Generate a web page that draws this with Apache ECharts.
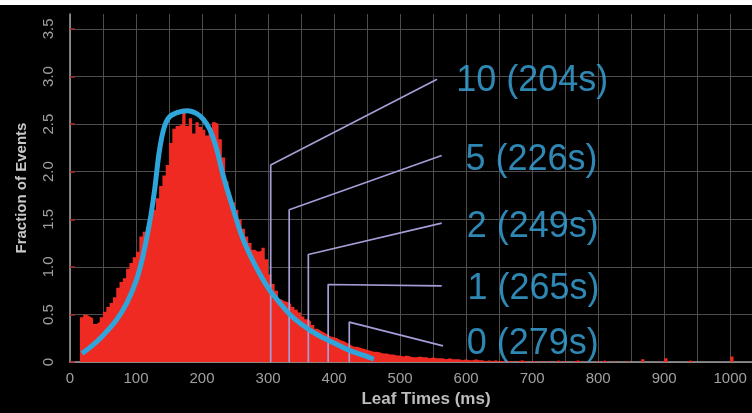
<!DOCTYPE html>
<html>
<head>
<meta charset="utf-8">
<script src="https://cdn.jsdelivr.net/npm/echarts@6/dist/echarts.min.js"></script>
<style>
html,body{margin:0;padding:0;background:#fff;}
#chart{width:752px;height:413px;}
</style>
</head>
<body>
<div id="chart"></div>
<script>
// ---- Data ----
// Histogram: bins of 5 ms starting at 15 ms (fraction of events)
var histStartMs = 15;
var histBinMs = 5;
var histValues = [
  0.47,0.50,0.48,0.46,0.40,0.42,0.47,0.53,0.58,0.62, // 15-60
  0.68,0.78,0.84,0.88,0.98,1.04,1.10,1.16,1.32,1.37, // 65-110
  1.42,1.50,1.60,1.72,1.85,1.96,2.07,2.30,2.45,2.48, // 115-160
  2.50,2.66,2.48,2.56,2.40,2.52,2.47,2.44,2.38,2.45, // 165-210
  2.52,2.50,2.34,2.15,1.90,1.75,1.68,1.60,1.50,1.40, // 215-260
  1.32,1.25,1.18,1.16,1.17,1.20,1.08,0.92,0.82,0.75, // 265-310
  0.66,0.64,0.63,0.61,0.58,0.55,0.52,0.48,0.45,0.43, // 315-360
  0.39,0.35,0.33,0.31,0.29,0.27,0.26,0.25,0.23,0.22, // 365-410
  0.20,0.18,0.16,0.16,0.15,0.14,0.13,0.12,0.11,0.11, // 415-460
  0.10,0.09,0.09,0.08,0.08,0.07,0.07,0.06,0.07,0.06, // 465-510
  0.05,0.05,0.06,0.05,0.05,0.04,0.05,0.04,0.04,0.04, // 515-560
  0.03,0.04,0.03,0.03,0.03,0.02,0.03,0.02,0.02,0.03, // 565-610
  0.02,0.02,0.01,0.02,0.01,0.02,0.01,0.01,0.02,0.01, // 615-660
  0.01,0.00,0.01,0.02,0.01,0.00,0.01,0.01,0.00,0.01, // 665-710
  0.00,0.01,0.00,0.00,0.02,0.00,0.01,0.00,0.00,0.01, // 715-760
  0.02,0.00,0.00,0.01,0.00,0.00,0.01,0.00,0.02,0.00, // 765-810
  0.00,0.01,0.00,0.00,0.00,0.01,0.00,0.00,0.00,0.00, // 815-860
  0.03,0.00,0.00,0.00,0.00,0.00,0.01,0.04,0.00,0.00, // 865-910
  0.00,0.00,0.00,0.00,0.02,0.00,0.00,0.00,0.00,0.00, // 915-960
  0.00,0.00,0.00,0.00,0.00,0.00,0.00,0.06,0.00,0.00, // 965-1010
  0.00,0.00,0.00,0.00                                 // 1015-1030
];

// Fitted distribution curve (ms, fraction)
var fitX = [18,35,50,70,86,100,110,121,128,135,142,150,162,178,192,202,212,222,232,247,260,273,288,303,318,333,350,374,400,424,445,460];
var fitY = [0.09,0.18,0.28,0.44,0.62,0.85,1.10,1.48,1.80,2.20,2.45,2.57,2.62,2.64,2.61,2.55,2.44,2.24,1.96,1.61,1.33,1.12,0.92,0.75,0.62,0.50,0.40,0.29,0.20,0.12,0.07,0.03];

// Threshold annotations
var thresholdMs   = [304, 332, 361, 391, 423];
var thresholdTop  = [2.07, 1.60, 1.13, 0.815, 0.42];
var leaderEndMs   = [556, 563, 563, 563, 565];
var leaderEndVal  = [2.97, 2.17, 1.46, 0.80, 0.17];
var labelMs       = [585, 599, 601, 602, 601];
var labelVal      = [2.95, 2.125, 1.417, 0.77, 0.19];
var labelTexts    = ['10 (204s)', '5 (226s)', '2 (249s)', '1 (265s)', '0 (279s)'];

var xTickLabels = [0,100,200,300,400,500,600,700,800,900,1000];
var yTickLabels = [0,0.5,1.0,1.5,2.0,2.5,3.0,3.5];

// ---- Build series data ----
var histData = [];
for (var i = 0; i < histValues.length; i++) {
  histData.push([histStartMs + i * histBinMs, histValues[i]]);
}
histData.push([histStartMs + histValues.length * histBinMs, 0]);

var fitData = fitX.map(function (x, i) { return [x, fitY[i]]; });

var annotationSeries = thresholdMs.map(function (x, i) {
  return {
    type: 'line',
    data: [[x, 0], [x, thresholdTop[i]], [leaderEndMs[i], leaderEndVal[i]]],
    symbol: 'none',
    silent: true,
    lineStyle: { color: '#a69dd6', width: 1.7 },
    z: 3
  };
});

var labelData = labelTexts.map(function (t, i) { return { value: [labelMs[i], labelVal[i]], name: t }; });

var chart = echarts.init(document.getElementById('chart'), null, { renderer: 'canvas' });
var option = {
  backgroundColor: '#000000',
  animation: false,
  grid: { left: 70, right: 0, top: 14, bottom: 48 },
  graphic: [{
    type: 'rect', left: 0, top: 0, shape: { width: 752, height: 5 },
    style: { fill: '#ffffff' }, z: 100
  }],
  xAxis: {
    type: 'value', min: 0, max: 1033, interval: 50,
    name: 'Leaf Times (ms)', nameLocation: 'middle', nameGap: 26,
    nameTextStyle: { color: '#bdbdbd', fontSize: 17, fontWeight: 'bold', fontFamily: 'Liberation Sans, Arial, sans-serif', padding: [0, 0, 0, 30] },
    axisLine: { show: true, lineStyle: { color: '#a0a0a0', width: 1.5 } },
    axisTick: { show: false },
    axisLabel: {
      customValues: xTickLabels, color: '#a0a0a0', fontSize: 15, margin: 9,
      fontFamily: 'Liberation Sans, Arial, sans-serif',
      formatter: function (v) { return String(v); }
    },
    splitLine: { show: true, lineStyle: { color: '#4d4d4d', width: 1 } }
  },
  yAxis: {
    type: 'value', min: 0, max: 3.656, interval: 0.25,
    name: 'Fraction of Events', nameLocation: 'middle', nameGap: 41, nameRotate: 90,
    nameTextStyle: { color: '#c8c8c8', fontSize: 15, fontWeight: 'bold', fontFamily: 'Liberation Sans Narrow, Liberation Sans, Arial, sans-serif' },
    axisLine: { show: true, lineStyle: { color: '#a0a0a0', width: 1.5 } },
    axisTick: { show: true, inside: true, length: 5, customValues: yTickLabels, lineStyle: { color: '#b02a2a', width: 1.5 } },
    axisLabel: {
      customValues: yTickLabels, rotate: 90, color: '#a0a0a0', fontSize: 15, margin: 14,
      fontFamily: 'Liberation Sans, Arial, sans-serif',
      formatter: function (v) { return v === 0 ? '0' : v.toFixed(1); }
    },
    splitLine: { show: true, lineStyle: { color: '#4d4d4d', width: 1 } }
  },
  series: [{
    type: 'line', data: histData, step: 'end', symbol: 'none', silent: true,
    lineStyle: { width: 0 }, areaStyle: { color: '#ee2a22', opacity: 1 }, z: 2
  }].concat(annotationSeries).concat([{
    type: 'line', data: fitData, smooth: 0.35, symbol: 'none', silent: true,
    lineStyle: { color: '#2ea6dc', width: 5 }, z: 4
  }, {
    type: 'scatter', data: labelData, symbolSize: 0, silent: true, z: 5,
    label: {
      show: true, position: 'right', distance: 0,
      formatter: function (p) { return p.name; },
      color: '#3aaae0', fontSize: 36, fontFamily: 'Liberation Sans, Arial, sans-serif'
    }
  }])
};
chart.setOption(option);
</script>
</body>
</html>
